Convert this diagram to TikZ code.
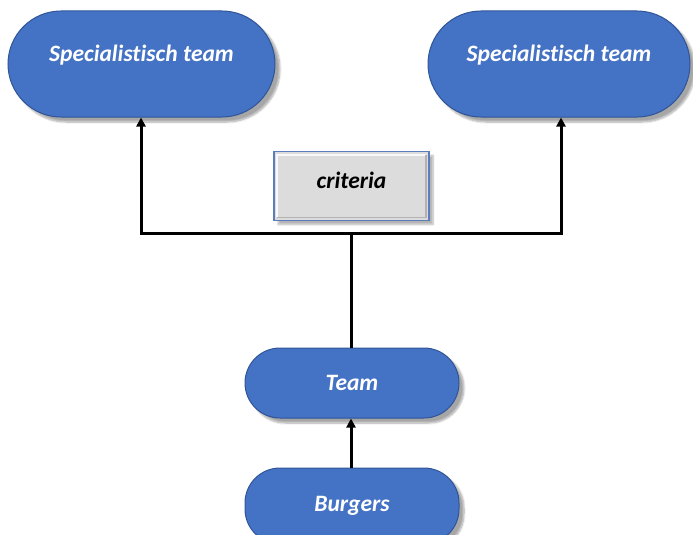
\documentclass[tikz,border=0pt]{standalone}
\usepackage{fontspec}
\setmainfont[Ligatures=NoCommon]{Carlito}
\usetikzlibrary{arrows.meta,shadows.blur}
\definecolor{pillblue}{RGB}{68,114,196}
\definecolor{pilledge}{RGB}{47,85,151}
\definecolor{boxgray}{RGB}{220,220,220}
\definecolor{boxedge}{RGB}{91,125,190}
\tikzset{
  x=1pt, y=-1pt,
  pill/.style={draw=pilledge, line width=1pt, fill=pillblue, inner sep=0pt,
    blur shadow={shadow xshift=5pt, shadow yshift=-5pt, shadow blur steps=8, shadow opacity=35}},
  ptext/.style={text=white, font=\fontsize{23.5}{26}\selectfont\bfseries\itshape, inner sep=0pt},
  critbox/.style={draw=boxedge, line width=1.8pt, fill=boxgray, inner sep=0pt,
    blur shadow={shadow xshift=4pt, shadow yshift=-4pt, shadow blur steps=6, shadow opacity=30}},
  ctext/.style={text=black, font=\fontsize{23.5}{26}\selectfont\bfseries\itshape, inner sep=0pt},
  conn/.style={line width=3pt, draw=black},
  arr/.style={conn, -{Triangle[length=9pt,width=9pt]}}
}
\begin{document}
\begin{tikzpicture}
\useasboundingbox (0,0) rectangle (693,535);
% top pills
\node[pill, minimum width=267pt, minimum height=106pt, rounded corners=53pt] (s1) at (141.5,64) {};
\node[ptext] (s1t) at (141.5,55) {Specialistisch team};
\node[pill, minimum width=262pt, minimum height=106pt, rounded corners=53pt] (s2) at (559,64) {};
\node[ptext] (s2t) at (559,55) {Specialistisch team};
% criteria box
\node[critbox, minimum width=155pt, minimum height=69pt] (crit) at (351.5,186) {};
\draw[white, line width=2pt, opacity=0.85] ([xshift=4pt,yshift=4pt]crit.south west) -- ([xshift=4pt,yshift=-4pt]crit.north west) -- ([xshift=-4pt,yshift=-4pt]crit.north east);
\draw[gray!60, line width=1.5pt] ([xshift=4pt,yshift=4pt]crit.south west) -- ([xshift=-4pt,yshift=4pt]crit.south east) -- ([xshift=-4pt,yshift=-4pt]crit.north east);
\node[ctext] (critt) at (351.5,180) {criteria};
% team and burgers
\node[pill, minimum width=214pt, minimum height=70pt, rounded corners=35pt] (team) at (352,383) {};
\node[ptext] (teamt) at (352,383) {Team};
\node[pill, minimum width=214pt, minimum height=76pt, rounded corners=35pt] (burg) at (352,506) {};
\node[ptext] (burgt) at (352,506) {Burgers};
% connectors
\coordinate (j) at (351,233);
\coordinate (jl) at (141,233);
\coordinate (jr) at (561,233);
\draw[conn] (j |- team.north) -- (j);
\draw[conn, line cap=rect] (jl) -- (jr);
\draw[arr] (jl) -- (jl |- s1.south);
\draw[arr] (jr) -- (jr |- s2.south);
\draw[arr] (j |- burg.north) -- (j |- team.south);
\end{tikzpicture}
\end{document}
